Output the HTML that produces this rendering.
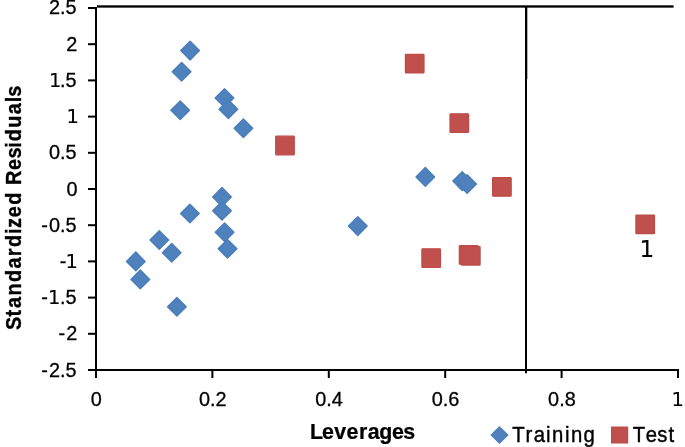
<!DOCTYPE html>
<html lang="en"><head><meta charset="utf-8"><title>Williams plot</title>
<style>
html,body{margin:0;padding:0;background:#fff;}
svg{display:block;will-change:transform;}
text{font-family:"Liberation Sans",Arial,Helvetica,sans-serif;fill:#000;stroke:#000;stroke-width:0.3px;}
.one{font-family:"DejaVu Sans","Liberation Sans",sans-serif;font-size:0.98em;letter-spacing:-1.3px;stroke-width:0.12px;}
.num{font-size:20.5px;}
.hy{letter-spacing:1.1px;}
.ttl{font-size:19.8px;font-weight:bold;stroke:none;}
.lg{font-size:19.7px;}
.d{fill:#4f81bd;stroke:#4a7ebb;stroke-width:1.4;stroke-linejoin:round;}
.s{fill:#c0504d;stroke:#be4b48;stroke-width:1.2;stroke-linejoin:round;}
</style></head><body>
<svg width="685" height="447" viewBox="0 0 685 447">
<rect x="0" y="0" width="685" height="447" fill="#fff"/>
<rect x="97" y="5.3" width="576.6" height="2.35" fill="#000"/>
<rect x="525" y="7" width="2" height="366.2" fill="#000"/>
<rect x="527" y="7" width="0.5" height="72" fill="#000" opacity="0.6"/>
<rect x="95" y="7" width="2" height="371" fill="#000"/>
<rect x="88" y="369" width="591" height="2" fill="#000"/>
<rect x="88" y="7.00" width="8" height="2" fill="#000"/>
<rect x="88" y="43.20" width="8" height="2" fill="#000"/>
<rect x="88" y="79.40" width="8" height="2" fill="#000"/>
<rect x="88" y="115.60" width="8" height="2" fill="#000"/>
<rect x="88" y="151.80" width="8" height="2" fill="#000"/>
<rect x="88" y="188.00" width="8" height="2" fill="#000"/>
<rect x="88" y="224.20" width="8" height="2" fill="#000"/>
<rect x="88" y="260.40" width="8" height="2" fill="#000"/>
<rect x="88" y="296.60" width="8" height="2" fill="#000"/>
<rect x="88" y="332.80" width="8" height="2" fill="#000"/>
<rect x="211.40" y="370" width="2" height="8" fill="#000"/>
<rect x="327.80" y="370" width="2" height="8" fill="#000"/>
<rect x="444.20" y="370" width="2" height="8" fill="#000"/>
<rect x="560.60" y="370" width="2" height="8" fill="#000"/>
<rect x="677.00" y="370" width="2" height="8" fill="#000"/>
<text class="num" transform="translate(76.6,14.20) scale(0.97,1)" text-anchor="end">2.5</text>
<text class="num" transform="translate(77.2,50.75) scale(0.97,1)" text-anchor="end">2</text>
<text class="num" transform="translate(76.6,86.95) scale(0.97,1)" text-anchor="end"><tspan class="one">1</tspan>.5</text>
<text class="num" transform="translate(77.6,123.15) scale(0.97,1)" text-anchor="end"><tspan class="one">1</tspan></text>
<text class="num" transform="translate(76.6,159.35) scale(0.97,1)" text-anchor="end">0.5</text>
<text class="num" transform="translate(77.6,195.55) scale(0.97,1)" text-anchor="end">0</text>
<text class="num" transform="translate(76.6,231.75) scale(0.97,1)" text-anchor="end"><tspan class="hy">-</tspan>0.5</text>
<text class="num" transform="translate(76.6,267.95) scale(0.97,1)" text-anchor="end"><tspan class="hy" style="letter-spacing:-1px">-</tspan><tspan class="one">1</tspan></text>
<text class="num" transform="translate(76.6,304.15) scale(0.97,1)" text-anchor="end"><tspan class="hy" style="letter-spacing:0.1px">-</tspan><tspan class="one" style="letter-spacing:-0.3px">1</tspan>.5</text>
<text class="num" transform="translate(77.2,340.35) scale(0.97,1)" text-anchor="end"><tspan class="hy">-</tspan>2</text>
<text class="num" transform="translate(76.6,376.55) scale(0.97,1)" text-anchor="end"><tspan class="hy">-</tspan>2.5</text>
<text class="num" transform="translate(96.30,405.9) scale(0.97,1)" text-anchor="middle">0</text>
<text class="num" transform="translate(212.70,405.9) scale(0.97,1)" text-anchor="middle">0.2</text>
<text class="num" transform="translate(329.10,405.9) scale(0.97,1)" text-anchor="middle">0.4</text>
<text class="num" transform="translate(445.50,405.9) scale(0.97,1)" text-anchor="middle">0.6</text>
<text class="num" transform="translate(561.90,405.9) scale(0.97,1)" text-anchor="middle">0.8</text>
<text class="num" transform="translate(677.10,405.9) scale(0.97,1)" text-anchor="middle"><tspan class="one">1</tspan></text>
<polygon class="d" points="190.1,41.3 199.4,50.6 190.1,59.9 180.8,50.6"/>
<polygon class="d" points="181.6,62.5 190.9,71.8 181.6,81.1 172.3,71.8"/>
<polygon class="d" points="180.2,101.0 189.5,110.3 180.2,119.6 170.9,110.3"/>
<polygon class="d" points="224.5,88.7 233.8,98.0 224.5,107.3 215.2,98.0"/>
<polygon class="d" points="228.4,99.9 237.7,109.2 228.4,118.5 219.1,109.2"/>
<polygon class="d" points="243.4,118.9 252.7,128.2 243.4,137.5 234.1,128.2"/>
<polygon class="d" points="222.0,187.6 231.3,196.9 222.0,206.2 212.7,196.9"/>
<polygon class="d" points="222.0,201.4 231.3,210.7 222.0,220.0 212.7,210.7"/>
<polygon class="d" points="189.9,204.2 199.2,213.5 189.9,222.8 180.6,213.5"/>
<polygon class="d" points="224.6,223.0 233.9,232.3 224.6,241.6 215.3,232.3"/>
<polygon class="d" points="227.5,239.5 236.8,248.8 227.5,258.1 218.2,248.8"/>
<polygon class="d" points="159.3,230.7 168.6,240.0 159.3,249.3 150.0,240.0"/>
<polygon class="d" points="171.7,243.4 181.0,252.7 171.7,262.0 162.4,252.7"/>
<polygon class="d" points="135.8,252.1 145.1,261.4 135.8,270.7 126.5,261.4"/>
<polygon class="d" points="140.3,270.1 149.6,279.4 140.3,288.7 131.0,279.4"/>
<polygon class="d" points="176.9,297.5 186.2,306.8 176.9,316.1 167.6,306.8"/>
<polygon class="d" points="357.8,216.8 367.1,226.1 357.8,235.4 348.5,226.1"/>
<polygon class="d" points="425.3,167.6 434.6,176.9 425.3,186.2 416.0,176.9"/>
<polygon class="d" points="462.2,171.8 471.5,181.1 462.2,190.4 452.9,181.1"/>
<polygon class="d" points="467.1,174.7 476.4,184.0 467.1,193.3 457.8,184.0"/>
<rect class="s" x="275.7" y="136.2" width="18.6" height="18.6" rx="0.6"/>
<rect class="s" x="405.4" y="54.3" width="18.6" height="18.6" rx="0.6"/>
<rect class="s" x="450.0" y="113.8" width="18.6" height="18.6" rx="0.6"/>
<rect class="s" x="492.6" y="177.6" width="18.6" height="18.6" rx="0.6"/>
<rect class="s" x="421.9" y="248.8" width="18.6" height="18.6" rx="0.6"/>
<rect class="s" x="459.3" y="245.6" width="18.6" height="18.6" rx="0.6"/>
<rect class="s" x="461.5" y="246.5" width="18.6" height="18.6" rx="0.6"/>
<rect class="s" x="635.9" y="215.0" width="18.6" height="18.6" rx="0.6"/>
<text x="646.3" y="257.0" text-anchor="middle" style="font-size:23.6px;stroke-width:0.1px"><tspan class="one">1</tspan></text>
<text class="ttl" transform="translate(311.20,438.80) scale(0.980,1)" style="font-size:21.8px;stroke:#000;stroke-width:0.25px" x="-1.28 11.11 23.54 35.97 48.73 57.71 69.44 82.48 93.96" y="0">Leverages</text>
<text class="ttl" transform="translate(20.7,329.4) rotate(-90) scale(0.875,1)" style="font-size:22.7px;stroke:#000;stroke-width:0.35px" x="-0.76 14.84 24.42 38.65 54.12 69.59 83.73 94.07 109.12 115.87 128.22 142.59" y="0">Standardized</text>
<text class="ttl" transform="translate(20.7,184.9) rotate(-90) scale(0.875,1)" style="font-size:22.7px;stroke:#000;stroke-width:0.35px" x="-0.11 17.09 30.05 42.47 49.93 65.35 80.77 94.54 100.64" y="0">Residuals</text>
<polygon class="d" points="499.5,427.1 507.7,435.1 499.5,443.1 491.3,435.1"/>
<text class="lg" transform="translate(512.20,441.80) scale(0.950,1)" style="font-size:21.4px;stroke-width:0.4px" x="-0.08 13.98 22.56 35.53 41.96 55.54 61.97 75.18" y="0">Training</text>
<rect class="s" x="611.6" y="427" width="16" height="16"/>
<text class="lg" transform="translate(633.00,441.80) scale(0.950,1)" style="font-size:21.4px;stroke-width:0.4px" x="-0.15 13.34 25.59 37.48" y="0">Test</text>
</svg></body></html>
